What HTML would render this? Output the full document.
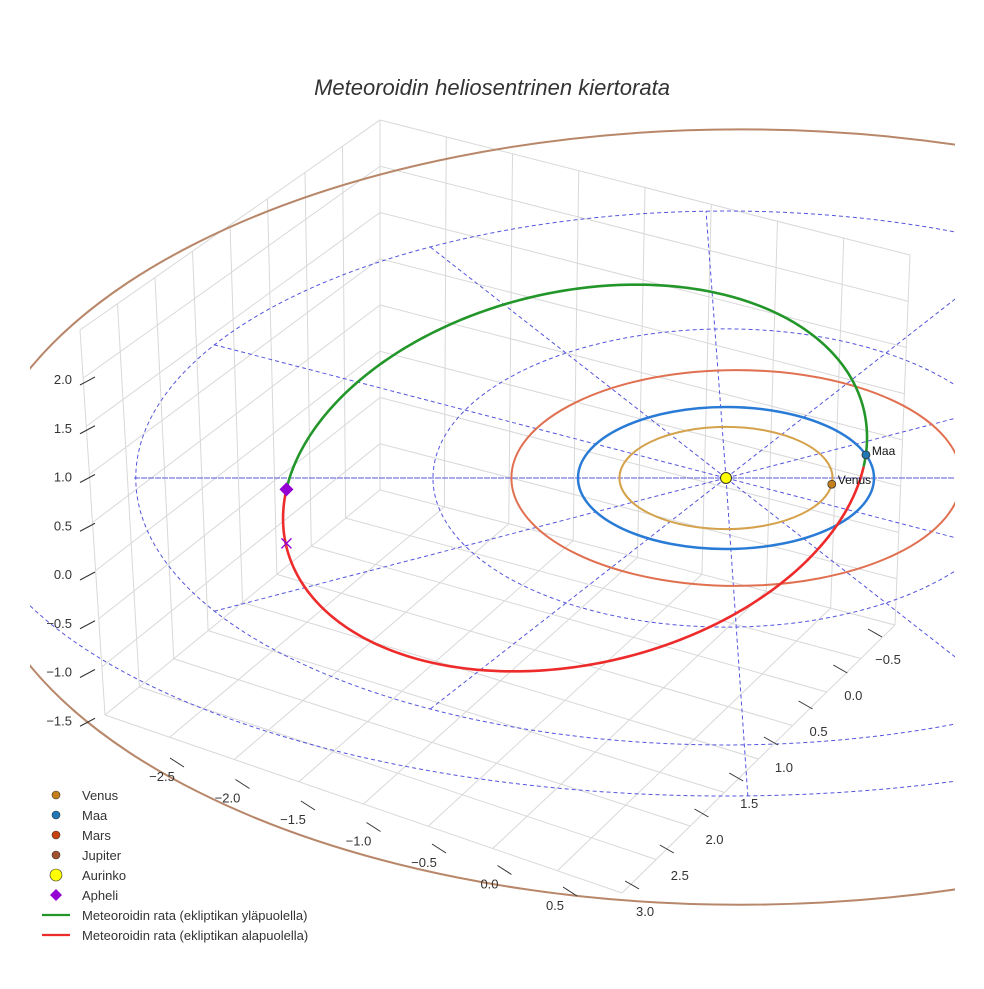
<!DOCTYPE html>
<html><head><meta charset="utf-8"><style>
html,body{margin:0;padding:0;background:#fff}
svg text{font-family:"Liberation Sans",sans-serif}
</style></head><body>
<svg id="c" width="984" height="984" viewBox="0 0 984 984">
<defs><clipPath id="clip"><rect x="30" y="0" width="925" height="984"/></clipPath></defs>
<text x="492" y="95" text-anchor="middle" font-size="22" font-style="italic" fill="#333">Meteoroidin heliosentrinen kiertorata</text>
<g id="grid"></g>
<g id="plot" clip-path="url(#clip)"></g>
<g id="axes"></g>
<g id="legend"></g>
</svg>
<script>
// ---- data ----
const planetNames = ["Venus","Maa","Mars","Jupiter"];
const planetRadii = [0.72, 1.0, 1.52, 5.2];
const planetAngles = [-7, 19, 0, 0]; // degrees, marker position on orbit
const ringRadii = [1, 2, 4];
const radialAngles = [0,30,60,90,120,150,180,210,240,270,300,330];
const orbitCenterX = -1.02, orbitA = 1.95, orbitTiltX = 0.30, orbitD = 0.16, orbitB = 1.33, orbitZ = 1.45;
const zTicks = ["2.0","1.5","1.0","0.5","0.0","−0.5","−1.0","−1.5"];
const zTickVals = [2.0,1.5,1.0,0.5,0.0,-0.5,-1.0,-1.5];
const xTicks = ["−2.5","−2.0","−1.5","−1.0","−0.5","0.0","0.5"];
const yTicks = ["−0.5","0.0","0.5","1.0","1.5","2.0","2.5","3.0"];
const legendLabels = ["Venus","Maa","Mars","Jupiter","Aurinko","Apheli","Meteoroidin rata (ekliptikan yläpuolella)","Meteoroidin rata (ekliptikan alapuolella)"];

// ---- projection ----
const CX=726, CY=478, SX=148, SY=71, SZ=68;
const px=(X)=>CX+SX*X;
const py=(Y,Z)=>CY-SY*Y-SZ*(Z||0);
const NS="http://www.w3.org/2000/svg";
function mk(tag,parent,attrs){const e=document.createElementNS(NS,tag);for(const k in attrs)e.setAttribute(k,attrs[k]);parent.appendChild(e);return e;}
const grid=document.getElementById('grid'),plot=document.getElementById('plot'),axes=document.getElementById('axes'),legend=document.getElementById('legend');

// ---- grid box (perspective quad) ----
const L=[105,715],F=[622,893],B=[380,490],R=[895,625];
const HL=385,HB=370,HR=370;
function fp(u,v){return [(1-u)*(1-v)*L[0]+u*(1-v)*F[0]+(1-u)*v*B[0]+u*v*R[0],(1-u)*(1-v)*L[1]+u*(1-v)*F[1]+(1-u)*v*B[1]+u*v*R[1]];}
function gl(a,b){const e=mk('line',grid,{x1:a[0],y1:a[1],x2:b[0],y2:b[1],stroke:'#d8d8d8','stroke-width':1});

}
const N=8;
for(let i=0;i<=N;i++){const t=i/N;
  gl(fp(t,0),fp(t,1)); gl(fp(0,t),fp(1,t));
  const p=fp(0,t),hp=HL+(HB-HL)*t; gl(p,[p[0]-25*(1-t),p[1]-hp]);
  const q=fp(t,1),hq=HB+(HR-HB)*t; gl(q,[q[0]+15*t,q[1]-hq]);
}
for(let i=1;i<=8;i++){const s=i/8;
  const a=[L[0]-25*s,L[1]-HL*s],b=[B[0],B[1]-HB*s],c=[R[0]+15*s,R[1]-HR*s];
  gl(a,b); gl(b,c);
}

// ---- dashed rings & radials ----
ringRadii.forEach(r=>{const e=mk('ellipse',plot,{cx:CX,cy:CY,rx:SX*r*(r===4?0.997:r===2?0.99:1),ry:SY*r*(r===4?0.94:r===2?1.05:1),fill:'none',stroke:'#5555dd','stroke-width':1,'stroke-dasharray':'4,3'});

});
{const e=mk('path',plot,{d:'M -34,478 A 760 318 0 0 0 1486,478',fill:'none',stroke:'#5555dd','stroke-width':1,'stroke-dasharray':'4,3'});

}
radialAngles.forEach(a=>{const t=a*Math.PI/180,r=a===270?4.8:a===0?1.55:4;const e=mk('line',plot,{x1:CX,y1:CY,x2:px(r*Math.cos(t))+(a===270?22:a===90?-20:0),y2:py(r*0.94*Math.sin(t)),stroke:'#5555dd','stroke-width':1,'stroke-dasharray':'4,3'});

});
{const e=mk('line',plot,{x1:136,y1:CY,x2:955,y2:CY,stroke:'#5555dd','stroke-width':1,'stroke-dasharray':'4,3'});

}

// ---- planet orbits ----
const orbitColors=["#d4a24c","#2a7bd6","#e07050","#b8876a"];
const markerColors=["#c47f1a","#1f77b4","#c8400e","#a0522d"];
planetRadii.forEach((r,i)=>{
  const ox=i===2?0.07:i===3?0.1:0, oy=i===3?-0.55:0;
  const e=mk('ellipse',plot,{cx:px(ox),cy:py(oy),rx:SX*r,ry:SY*r*(i===3?1.05:1),fill:'none',stroke:orbitColors[i],'stroke-width':i===1?2.5:2});
  
  
});

// ---- meteoroid orbit ----
function orb(th){return [px(orbitCenterX+orbitA*Math.cos(th)+orbitTiltX*Math.sin(th)), py(orbitD*Math.cos(th)+orbitB*Math.sin(th), orbitZ*Math.sin(th))];}
let gp=[],rp=[];
for(let k=0;k<=180;k++){const th=k*Math.PI/180;gp.push(orb(th).join(','));rp.push(orb(-th).join(','));}
{const e=mk('polyline',plot,{points:gp.join(' '),fill:'none',stroke:'#23962a','stroke-width':2.6});

}
{const e=mk('polyline',plot,{points:rp.join(' '),fill:'none',stroke:'#ee2b2b','stroke-width':2.6});

}

// ---- markers ----
[0,1].forEach(i=>{const t=planetAngles[i]*Math.PI/180;const x=px(planetRadii[i]*Math.cos(t)),y=py(planetRadii[i]*Math.sin(t));
  const e=mk('circle',plot,{cx:x,cy:y,r:4,fill:markerColors[i],stroke:'#333','stroke-width':0.8});
  
  
  const tx=mk('text',plot,{x:x+6,y:y,'font-size':12,fill:'#111'});tx.textContent=planetNames[i];
  
  
});
{const e=mk('circle',plot,{cx:CX,cy:CY,r:5.5,fill:'#ffff00',stroke:'#333','stroke-width':1});

}
{const a=orb(Math.PI);const e=mk('path',plot,{d:`M${a[0]},${a[1]-7}l7,7l-7,7l-7,-7z`,fill:'#9400d3'});


const x=mk('path',plot,{d:`M${a[0]-5},${a[1]+49}l10,10M${a[0]+5},${a[1]+49}l-10,10`,stroke:'#9400d3','stroke-width':1.3});

}

// ---- axes ticks ----
zTicks.forEach((s,i)=>{const y=574-97.5*zTickVals[i];
  const l=mk('line',axes,{x1:80,y1:y+6,x2:95,y2:y-2,stroke:'#333','stroke-width':1});
  
  
  const t=mk('text',axes,{x:72,y:y+5,'text-anchor':'end','font-size':13,fill:'#333'});t.textContent=s;
  
  });
xTicks.forEach((s,i)=>{const x=162+65.5*i,y=776+21.5*i;
  const l=mk('line',axes,{x1:x+8,y1:y-18,x2:x+22,y2:y-9,stroke:'#333','stroke-width':1});
  
  
  const t=mk('text',axes,{x:x,y:y+5,'text-anchor':'middle','font-size':13,fill:'#333'});t.textContent=s;
  
  });
yTicks.forEach((s,i)=>{const x=888-34.7*i,y=659+36*i;
  const l=mk('line',axes,{x1:x-20,y1:y-30,x2:x-6,y2:y-22,stroke:'#333','stroke-width':1});
  
  
  const t=mk('text',axes,{x:x,y:y+5,'text-anchor':'middle','font-size':13,fill:'#333'});t.textContent=s;
  
  });

// ---- legend ----
const legMarker=["#c47f1a","#1f77b4","#c8400e","#a0522d","#ffff00","#9400d3","#23962a","#ee2b2b"];
legendLabels.forEach((s,i)=>{const y=795+20*i;let m;
  if(i<5){m=mk('circle',legend,{cx:56,cy:y,r:i===4?6:4,fill:legMarker[i],stroke:'#333','stroke-width':0.6});}
  else if(i===5){m=mk('path',legend,{d:`M56,${y-6}l6,6l-6,6l-6,-6z`,fill:legMarker[i]});}
  else {m=mk('line',legend,{x1:42,y1:y,x2:70,y2:y,stroke:legMarker[i],'stroke-width':2.2});}
  
  
  const t=mk('text',legend,{x:82,y:y+5,'font-size':13,fill:'#333'});t.textContent=s;
  
  });
</script>
</body></html>
